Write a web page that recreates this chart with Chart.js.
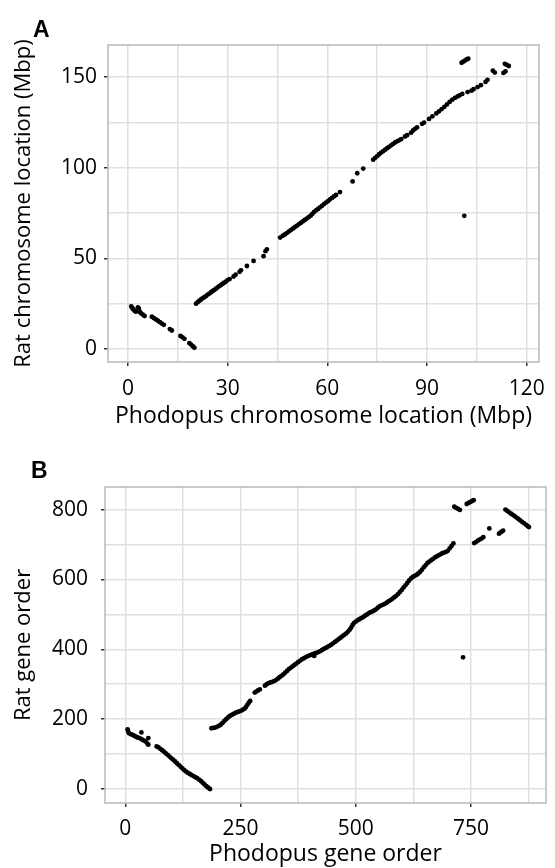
<!DOCTYPE html>
<html>
<head>
<meta charset="utf-8">
<script src="https://cdn.jsdelivr.net/npm/chart.js@4.4.1/dist/chart.umd.min.js"></script>
<style>
  body { margin: 0; background: #fff; width: 555px; height: 868px; position: relative; overflow: hidden; }
  canvas { position: absolute; left: 0; }
  #chartA { top: 0; }
  #chartB { top: 430px; }
  .tag { position: absolute; z-index: 2; font: bold 23px "Liberation Sans", Arial, sans-serif; line-height: 23px; color: #000; }
</style>
</head>
<body>
<div class="tag" style="left:33px;top:18px">A</div>
<canvas id="chartA" width="555" height="430"></canvas>
<div class="tag" style="left:31px;top:459px">B</div>
<canvas id="chartB" width="555" height="438"></canvas>
<script>
// panel A: chromosome location, Mbp  [phodopus, rat]
const mbpPoints = [
  [1.0,23.5],[1.3,22.6],[1.6,21.8],[2.0,21.1],[2.4,20.6],[3.0,23.0],[3.3,22.2],[3.6,20.4],[4.0,19.6],[4.5,18.9],[5.0,18.2],
  [7.2,17.8],[7.8,17.0],[8.4,16.3],[9.0,15.6],[9.6,14.8],[10.2,14.0],[10.8,13.3],[12.6,11.0],[13.2,10.2],
  [15.8,7.2],[16.4,6.4],[17.0,5.6],[18.5,3.2],[19.0,2.4],[19.5,1.5],[20.0,0.7],
  [20.5,25.0],[21.0,25.8],[21.5,26.6],[22.0,27.3],[22.5,28.0],[23.0,28.6],[23.5,29.2],[24.0,30.0],[24.5,30.6],
  [25.0,31.3],[25.5,32.0],[26.0,32.6],[26.5,33.3],[27.0,34.0],[27.5,34.7],[28.0,35.3],[28.5,36.0],[29.0,36.6],
  [29.5,37.2],[30.0,38.0],[30.6,38.6],[31.8,40.0],[32.4,41.0],[33.6,42.6],[34.0,43.4],[35.8,45.8],[37.8,48.6],
  [40.8,51.2],[41.4,54.0],[41.8,55.0],
  [45.8,61.5],[46.6,62.5],[47.2,63.2],[47.8,64.0],[48.4,64.8],[49.0,65.6],[49.6,66.4],[50.2,67.2],[50.8,68.0],
  [51.4,68.8],[52.0,69.6],[52.6,70.4],[53.2,71.2],[53.8,72.0],[54.4,72.8],[55.0,73.6],[55.5,74.6],[56.0,75.6],
  [56.6,76.5],[57.2,77.3],[57.8,78.2],[58.4,79.0],[59.0,80.0],[59.6,80.8],[60.2,81.6],[60.8,82.6],[61.4,83.4],
  [62.0,84.2],[62.6,85.0],[63.8,86.6],
  [67.6,92.5],[69.0,97.0],[70.8,99.6],
  [73.8,104.5],[74.4,105.5],[75.0,106.5],[75.6,107.5],[76.2,108.4],[76.8,109.2],[77.4,110.0],[78.0,110.8],
  [78.6,111.6],[79.2,112.4],[79.8,113.2],[80.4,114.0],[81.0,114.6],[81.6,115.2],[82.2,115.8],[83.4,117.3],
  [84.0,118.0],[85.2,119.4],[85.8,120.6],[86.4,121.5],[87.0,122.3],[88.5,124.3],[89.1,125.0],[90.6,127.0],
  [91.6,128.4],[92.8,130.0],[93.6,131.2],[94.4,132.4],[95.2,133.6],[96.0,135.0],[96.8,136.4],[97.6,137.6],
  [98.4,138.6],[99.2,139.4],[99.8,140.0],[100.6,140.8],
  [102.2,141.8],[103.4,142.6],[104.0,143.4],[105.2,144.6],[106.2,145.6],[107.6,147.4],[108.2,148.6],
  [109.8,153.6],[110.4,152.6],[113.0,152.4],[113.6,153.2],[113.4,157.4],[114.0,156.8],[114.6,156.2],
  [100.4,158.0],[100.9,158.6],[101.4,159.2],[101.9,159.8],[102.4,160.2],
  [101.2,73.5]
];

// panel B: gene order  [phodopus, rat]
const genePoints = [
  [5,171],[6,166],[8,160],[12,157],[16,155],[20,152],[24,149],[28,147],[32,145],[35,162],[36,142],[40,139],
  [44,136],[48,130],[50,127],[50,146],
  [68,122],[72,119],[76,115],[80,111],[84,107],[88,102],[92,98],[96,93],[100,88],[104,84],[108,79],[112,74],
  [116,69],[120,64],[124,59],[128,54],[132,50],[136,46],[140,43],[144,40],[148,37],[152,34],[156,31],[160,27],
  [164,23],[168,18],[172,13],[176,8],[179,5],[182,2],[184,0],
  [187,174],[191,175],[195,176],[199,178],[203,181],[207,184],[211,189],[215,195],[219,200],[223,205],[227,209],
  [231,212],[235,215],[239,218],[243,220],[247,222],[251,224],[255,227],[259,230],[262,235],[265,241],[268,247],
  [271,252],[281,276],[284,279],[288,282],[292,285],
  [303,296],[307,300],[311,303],[315,305],[319,307],[323,309],[327,312],[331,316],[335,320],[339,324],[343,328],
  [347,333],[351,338],[355,343],[359,347],[363,351],[367,355],[371,359],[375,363],[379,367],[383,371],[387,374],
  [391,377],[395,380],[399,382],[403,384],[407,386],[410,381],[411,388],[415,390],[419,392],[423,395],[427,398],
  [431,401],[435,404],[439,407],[443,410],[447,413],[451,417],[455,421],[459,425],[463,429],[467,433],[471,437],
  [475,441],[479,445],[483,450],[487,456],[490,462],[493,469],[496,475],[500,479],[504,483],[508,486],[512,489],
  [516,492],[520,496],[524,499],[528,503],[532,506],[536,508],[540,511],[544,514],[548,519],[552,523],[556,526],
  [560,528],[564,531],[568,534],[572,538],[576,541],[580,545],[584,549],[588,553],[592,558],[596,564],[600,570],
  [604,577],[608,583],[612,590],[616,597],[620,603],[624,607],[628,610],[632,613],[636,617],[640,622],[644,628],
  [648,635],[652,641],[656,647],[660,651],[664,655],[668,659],[672,663],[676,666],[680,669],[684,672],[688,675],
  [692,677],[696,679],[700,682],[704,689],[708,696],[712,703],
  [714,808],[718,805],[722,802],[726,799],
  [741,816],[745,819],[749,822],[753,825],[756,827],
  [757,704],[761,707],[765,711],[769,714],[773,717],[777,721],[790,746],
  [811,731],[814,734],[817,737],[820,740],
  [825,800],[829,796],[833,792],[837,788],[841,785],[845,781],[849,777],[853,773],[857,769],[861,765],[865,761],
  [869,757],[873,753],[876,750],
  [733,377]
];

const mbpTicksX = [0, 30, 60, 90, 120];
const mbpMinorX = [15, 45, 75, 105];
const mbpTicksY = [0, 50, 100, 150];
const mbpMinorY = [25, 75, 125];
const geneTicksX = [0, 250, 500, 750];
const geneMinorX = [125, 375, 625, 875];
const geneTicksY = [0, 200, 400, 600, 800];
const geneMinorY = [100, 300, 500, 700];

Chart.defaults.font.family = "'Open Sans', 'Noto Sans', sans-serif";
Chart.defaults.color = '#000';

// full panel frame, like ggplot's panel.border
const panelBorder = {
  id: 'panelBorder',
  afterDraw(chart) {
    const a = chart.chartArea, c = chart.ctx;
    c.save();
    c.strokeStyle = '#bdbdbd';
    c.lineWidth = 1.6;
    c.strokeRect(a.left, a.top, a.right - a.left, a.bottom - a.top);
    c.restore();
  }
};

function axis(major, minor, min, max, title, size, tickPad, titlePad, horiz) {
  const all = major.concat(minor).sort((a, b) => a - b);
  return {
    type: 'linear',
    min: min,
    max: max,
    afterBuildTicks: s => { s.ticks = all.map(v => ({ value: v })); },
    afterFit: s => { if (horiz) s.height = size; else s.width = size; },
    grid: {
      color: '#e0e0e0',
      lineWidth: 1.5,
      drawTicks: true,
      tickLength: 4,
      tickWidth: 1.5,
      tickColor: c => (c.tick && major.includes(c.tick.value)) ? '#333' : 'rgba(0,0,0,0)'
    },
    border: { display: false },
    ticks: {
      autoSkip: false,
      maxRotation: 0,
      padding: tickPad,
      font: { size: 21 },
      callback: v => major.includes(v) ? String(v) : ''
    },
    title: { display: true, text: title, font: { size: horiz ? 23 : 22 }, padding: titlePad }
  };
}

function makeChart(id, pts, top, xAxis, yAxis) {
  return new Chart(document.getElementById(id), {
    type: 'scatter',
    data: {
      datasets: [{
        data: pts.map(p => ({ x: p[0], y: p[1] })),
        pointRadius: 2.4,
        pointHoverRadius: 2.4,
        backgroundColor: '#000',
        borderWidth: 0
      }]
    },
    options: {
      responsive: false,
      animation: false,
      devicePixelRatio: 1,
      layout: { padding: { top: top, right: 9, left: 0, bottom: 0 } },
      plugins: { legend: { display: false }, tooltip: { enabled: false } },
      scales: { x: xAxis, y: yAxis }
    },
    plugins: [panelBorder]
  });
}

makeChart('chartA', mbpPoints, 45,
  axis(mbpTicksX, mbpMinorX, -6, 123.7, 'Phodopus chromosome location (Mbp)', 68, 10, { top: 0, bottom: 0 }, true),
  axis(mbpTicksY, mbpMinorY, -7.2, 167.8, 'Rat chromosome location (Mbp)', 108, 7, { top: 11, bottom: 0 }, false));

makeChart('chartB', genePoints, 57,
  axis(geneTicksX, geneMinorX, -44, 913, 'Phodopus gene order', 65, 9, { top: 0, bottom: 0 }, true),
  axis(geneTicksY, geneMinorY, -40, 864.6, 'Rat gene order', 105, 13, { top: 11, bottom: 0 }, false));
</script>
</body>
</html>
